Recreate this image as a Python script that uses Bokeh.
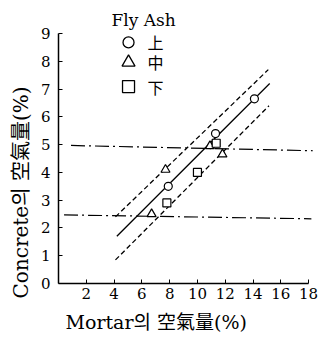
from bokeh.plotting import figure
from bokeh.models import Range1d, Label, FixedTicker, Title
from bokeh.embed import file_html
from bokeh.resources import INLINE

# data
circle_x = [7.9, 11.3, 14.1]
circle_y = [3.5, 5.4, 6.65]
tri_x = [6.7, 7.7, 10.9, 11.8]
tri_y = [2.5, 4.1, 4.95, 4.65]
square_x = [7.8, 10.0, 11.35]
square_y = [2.9, 4.0, 5.05]
fit_x = [4.2, 15.2]
fit_y = [1.7, 7.2]
upper_x = [4.1, 15.1]
upper_y = [2.4, 7.7]
lower_x = [4.1, 15.15]
lower_y = [0.85, 6.4]
ref5_x = [0.9, 18.3]
ref5_y = [4.97, 4.78]
ref25_x = [0.4, 18.2]
ref25_y = [2.47, 2.33]
x_ticks = [2, 4, 6, 8, 10, 12, 14, 16, 18]
y_ticks = [0, 1, 2, 3, 4, 5, 6, 7, 8, 9]
legend_title = "Fly Ash"
legend_labels = ["上", "中", "下"]
legend_markers = ["circle", "triangle", "square"]

SERIF = "'DejaVu Serif', 'Noto Sans CJK KR'"

p = figure(width=322, height=349, output_backend="svg", toolbar_location=None,
           x_range=Range1d(0, 19.0), y_range=Range1d(0, 10.19),
           min_border_left=58, min_border_right=0, min_border_top=0, min_border_bottom=66)
p.grid.visible = False
p.outline_line_color = None
p.background_fill_color = "white"

for ax in p.xaxis:
    ax.bounds = (0, 18)
    ax.ticker = FixedTicker(ticks=x_ticks)
    ax.major_tick_in = 4
    ax.major_tick_out = 0
    ax.minor_tick_line_color = None
    ax.major_label_text_font = SERIF
    ax.major_label_text_font_size = "15px"
    ax.major_label_text_color = "black"
    ax.major_label_standoff = 4
    ax.axis_line_width = 1.5
for ax in p.yaxis:
    ax.bounds = (0, 9)
    ax.ticker = FixedTicker(ticks=y_ticks)
    ax.major_tick_in = 4
    ax.major_tick_out = 0
    ax.minor_tick_line_color = None
    ax.major_label_text_font = SERIF
    ax.major_label_text_font_size = "15px"
    ax.major_label_text_color = "black"
    ax.major_label_standoff = 8
    ax.axis_line_width = 1.5

p.line(ref5_x, ref5_y, line_color="black", line_width=1.2, line_dash="14 4 2 4")
p.line(ref25_x, ref25_y, line_color="black", line_width=1.2, line_dash="14 4 2 4")
p.line(fit_x, fit_y, line_color="black", line_width=1.3)
p.line(upper_x, upper_y, line_color="black", line_width=1.3, line_dash="5 3")
p.line(lower_x, lower_y, line_color="black", line_width=1.3, line_dash="5 3")

p.scatter(circle_x, circle_y, marker="circle", size=8, fill_color="white", line_color="black", line_width=1.2)
p.scatter(tri_x, tri_y, marker="triangle", size=9, fill_color="white", line_color="black", line_width=1.2)
p.scatter(square_x, square_y, marker="square", size=8, fill_color="white", line_color="black", line_width=1.2)

# manual legend (positions in data units)
leg_x = 5.04
leg_label_x = 6.98
leg_ys = [8.68, 7.96, 7.09]
leg_sizes = [11, 13, 12]
for m, lab, ly, sz in zip(legend_markers, legend_labels, leg_ys, leg_sizes):
    p.scatter([leg_x], [ly], marker=m, size=sz, fill_color="white", line_color="black", line_width=1.3)
    p.add_layout(Label(x=leg_label_x, y=ly, text=lab, text_font="'Noto Sans CJK KR'",
                       text_font_size="16px", text_align="center", text_baseline="middle",
                       text_color="black"))

p.add_layout(Label(x=3.82, y=9.47, text=legend_title, text_font=SERIF, text_font_size="17px",
                   text_align="left", text_baseline="middle", text_color="black"))

p.add_layout(Title(text="Mortar의 空氣量(%)", align="left", offset=7, standoff=14,
                   text_font=SERIF, text_font_size="19px", text_font_style="normal",
                   text_color="black"), "below")
p.add_layout(Title(text="Concrete의 空氣量(%)", align="left", offset=-15, standoff=10,
                   text_font=SERIF, text_font_size="20px", text_font_style="normal",
                   text_color="black"), "left")

open("out.html", "w").write(file_html(p, INLINE))
